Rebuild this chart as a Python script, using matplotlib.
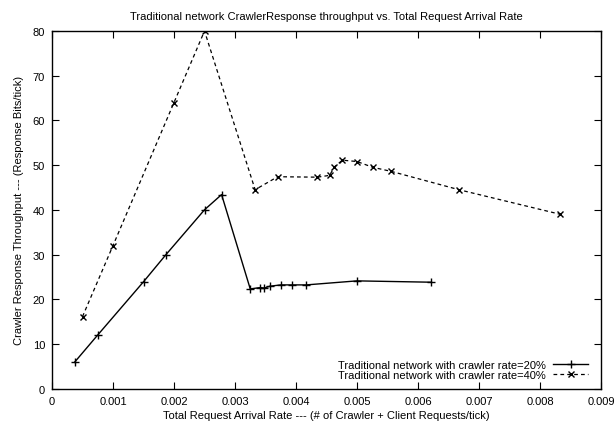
import matplotlib
matplotlib.use('Agg')
import matplotlib.pyplot as plt

plt.rcParams['font.family'] = ['Liberation Sans', 'DejaVu Sans']

# ── Data ────────────────────────────────────────────────────────────
rate_20 = [0.00037, 0.00075, 0.0015, 0.00187, 0.0025, 0.00278,
           0.00325, 0.00341, 0.00348, 0.00357, 0.00375, 0.00394,
           0.00417, 0.005, 0.00622]
thru_20 = [5.9, 12.0, 23.9, 30.0, 40.0, 43.4,
           22.3, 22.6, 22.5, 22.9, 23.2, 23.2,
           23.2, 24.1, 23.8]

rate_40 = [0.0005, 0.001, 0.002, 0.0025, 0.00333, 0.0037,
           0.00435, 0.00455, 0.00463, 0.00476, 0.005, 0.00526,
           0.00556, 0.00667, 0.00833]
thru_40 = [16.1, 32.0, 64.0, 80.0, 44.5, 47.4,
           47.3, 47.7, 49.6, 51.1, 50.8, 49.5,
           48.6, 44.5, 39.0]

x_ticks = [0, 0.001, 0.002, 0.003, 0.004, 0.005, 0.006, 0.007, 0.008, 0.009]
x_labels = ['0', '0.001', '0.002', '0.003', '0.004', '0.005', '0.006',
            '0.007', '0.008', '0.009']
y_ticks = [0, 10, 20, 30, 40, 50, 60, 70, 80]

# ── Figure ──────────────────────────────────────────────────────────
W, H = 615, 427
fig = plt.figure(figsize=(W / 100, H / 100), dpi=100, facecolor='white')
ax = fig.add_axes([52 / W, (H - 389.6) / H, 549 / W, (389.6 - 32) / H])

ax.plot(rate_20, thru_20, color='black', linewidth=1.0, marker='+',
        markersize=6, markeredgewidth=1.0,
        label='Traditional network with crawler rate=20%')
ax.plot(rate_40, thru_40, color='black', linewidth=0.9, linestyle=(0, (3, 2.5)),
        marker='x', markersize=4.5, markeredgewidth=1.0,
        label='Traditional network with crawler rate=40%')

ax.set_xlim(0, 0.009)
ax.set_ylim(0, 80)
ax.set_xticks(x_ticks)
ax.set_xticklabels(x_labels)
ax.set_yticks(y_ticks)
ax.tick_params(direction='in', length=5, width=0.8, top=True, right=True,
               labelsize=8, pad=5)
for s in ax.spines.values():
    s.set_linewidth(1.0)

ax.set_title('Traditional network CrawlerResponse throughput vs. Total Request Arrival Rate',
             fontsize=8, pad=9)
ax.set_xlabel('Total Request Arrival Rate --- (# of Crawler + Client Requests/tick)',
              fontsize=8, labelpad=3)
ax.set_ylabel('Crawler Response Throughput --- (Response Bits/tick)',
              fontsize=8, labelpad=6)

ax.legend(loc='lower right', frameon=False, fontsize=8, markerfirst=False,
          handlelength=3.2, handletextpad=0.6, labelspacing=0.0,
          borderaxespad=0.0, bbox_to_anchor=(0.985, 0.012))

fig.savefig('out.png', dpi=100, facecolor='white')
